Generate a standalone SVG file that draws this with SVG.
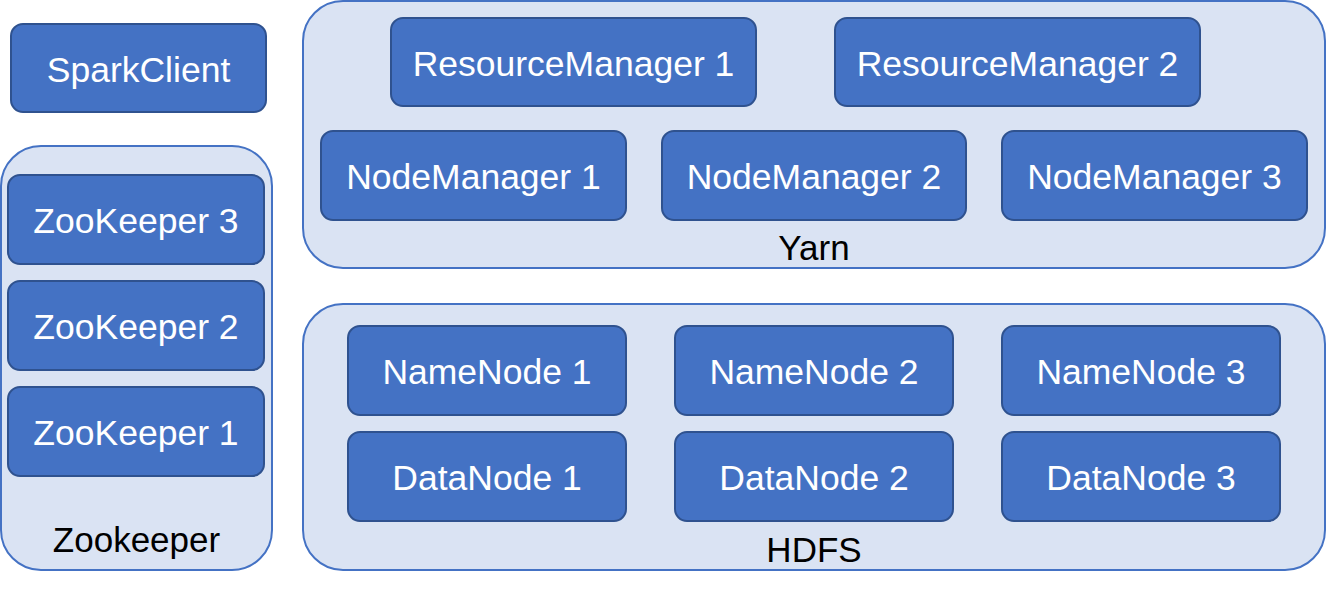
<svg xmlns="http://www.w3.org/2000/svg" width="1326" height="595" viewBox="0 0 1326 595">
<style>
.grp{fill:#DAE3F3;stroke:#4472C4;stroke-width:2}
.node rect{fill:#4472C4;stroke:#2F528F;stroke-width:2}
.node text{fill:#FFFFFF;font-family:"Liberation Sans",Arial,sans-serif;font-size:35.5px;text-anchor:middle}
.lbl{fill:#000000;font-family:"Liberation Sans",Arial,sans-serif;font-size:35px;text-anchor:middle}
</style>
<rect width="1326" height="595" fill="#FFFFFF"/>
<g id="zookeeper-group">
<rect class="grp" x="1" y="146" width="271" height="424" rx="40"/>
<text class="lbl" x="136.5" y="552">Zookeeper</text>
</g>
<g id="yarn-group">
<rect class="grp" x="303" y="1" width="1022" height="267" rx="40"/>
<text class="lbl" x="814" y="260">Yarn</text>
</g>
<g id="hdfs-group">
<rect class="grp" x="303" y="304" width="1022" height="266" rx="40"/>
<text class="lbl" x="814" y="562">HDFS</text>
</g>
<g id="sparkclient" class="node"><rect x="11" y="24" width="255" height="88" rx="12"/><text x="138.5" y="82">SparkClient</text></g>
<g id="zk3" class="node"><rect x="8" y="175" width="256" height="89" rx="12"/><text x="136" y="233">ZooKeeper 3</text></g>
<g id="zk2" class="node"><rect x="8" y="281" width="256" height="89" rx="12"/><text x="136" y="339">ZooKeeper 2</text></g>
<g id="zk1" class="node"><rect x="8" y="387" width="256" height="89" rx="12"/><text x="136" y="445">ZooKeeper 1</text></g>
<g id="rm1" class="node"><rect x="391" y="18" width="365" height="88" rx="12"/><text x="573.5" y="76">ResourceManager 1</text></g>
<g id="rm2" class="node"><rect x="835" y="18" width="365" height="88" rx="12"/><text x="1017.5" y="76">ResourceManager 2</text></g>
<g id="nm1" class="node"><rect x="321" y="131" width="305" height="89" rx="12"/><text x="473.5" y="189">NodeManager 1</text></g>
<g id="nm2" class="node"><rect x="662" y="131" width="304" height="89" rx="12"/><text x="814" y="189">NodeManager 2</text></g>
<g id="nm3" class="node"><rect x="1002" y="131" width="305" height="89" rx="12"/><text x="1154.5" y="189">NodeManager 3</text></g>
<g id="nn1" class="node"><rect x="348" y="326" width="278" height="89" rx="12"/><text x="487" y="384">NameNode 1</text></g>
<g id="nn2" class="node"><rect x="675" y="326" width="278" height="89" rx="12"/><text x="814" y="384">NameNode 2</text></g>
<g id="nn3" class="node"><rect x="1002" y="326" width="278" height="89" rx="12"/><text x="1141" y="384">NameNode 3</text></g>
<g id="dn1" class="node"><rect x="348" y="432" width="278" height="89" rx="12"/><text x="487" y="490">DataNode 1</text></g>
<g id="dn2" class="node"><rect x="675" y="432" width="278" height="89" rx="12"/><text x="814" y="490">DataNode 2</text></g>
<g id="dn3" class="node"><rect x="1002" y="432" width="278" height="89" rx="12"/><text x="1141" y="490">DataNode 3</text></g>
<g id="connectors"></g>
</svg>
